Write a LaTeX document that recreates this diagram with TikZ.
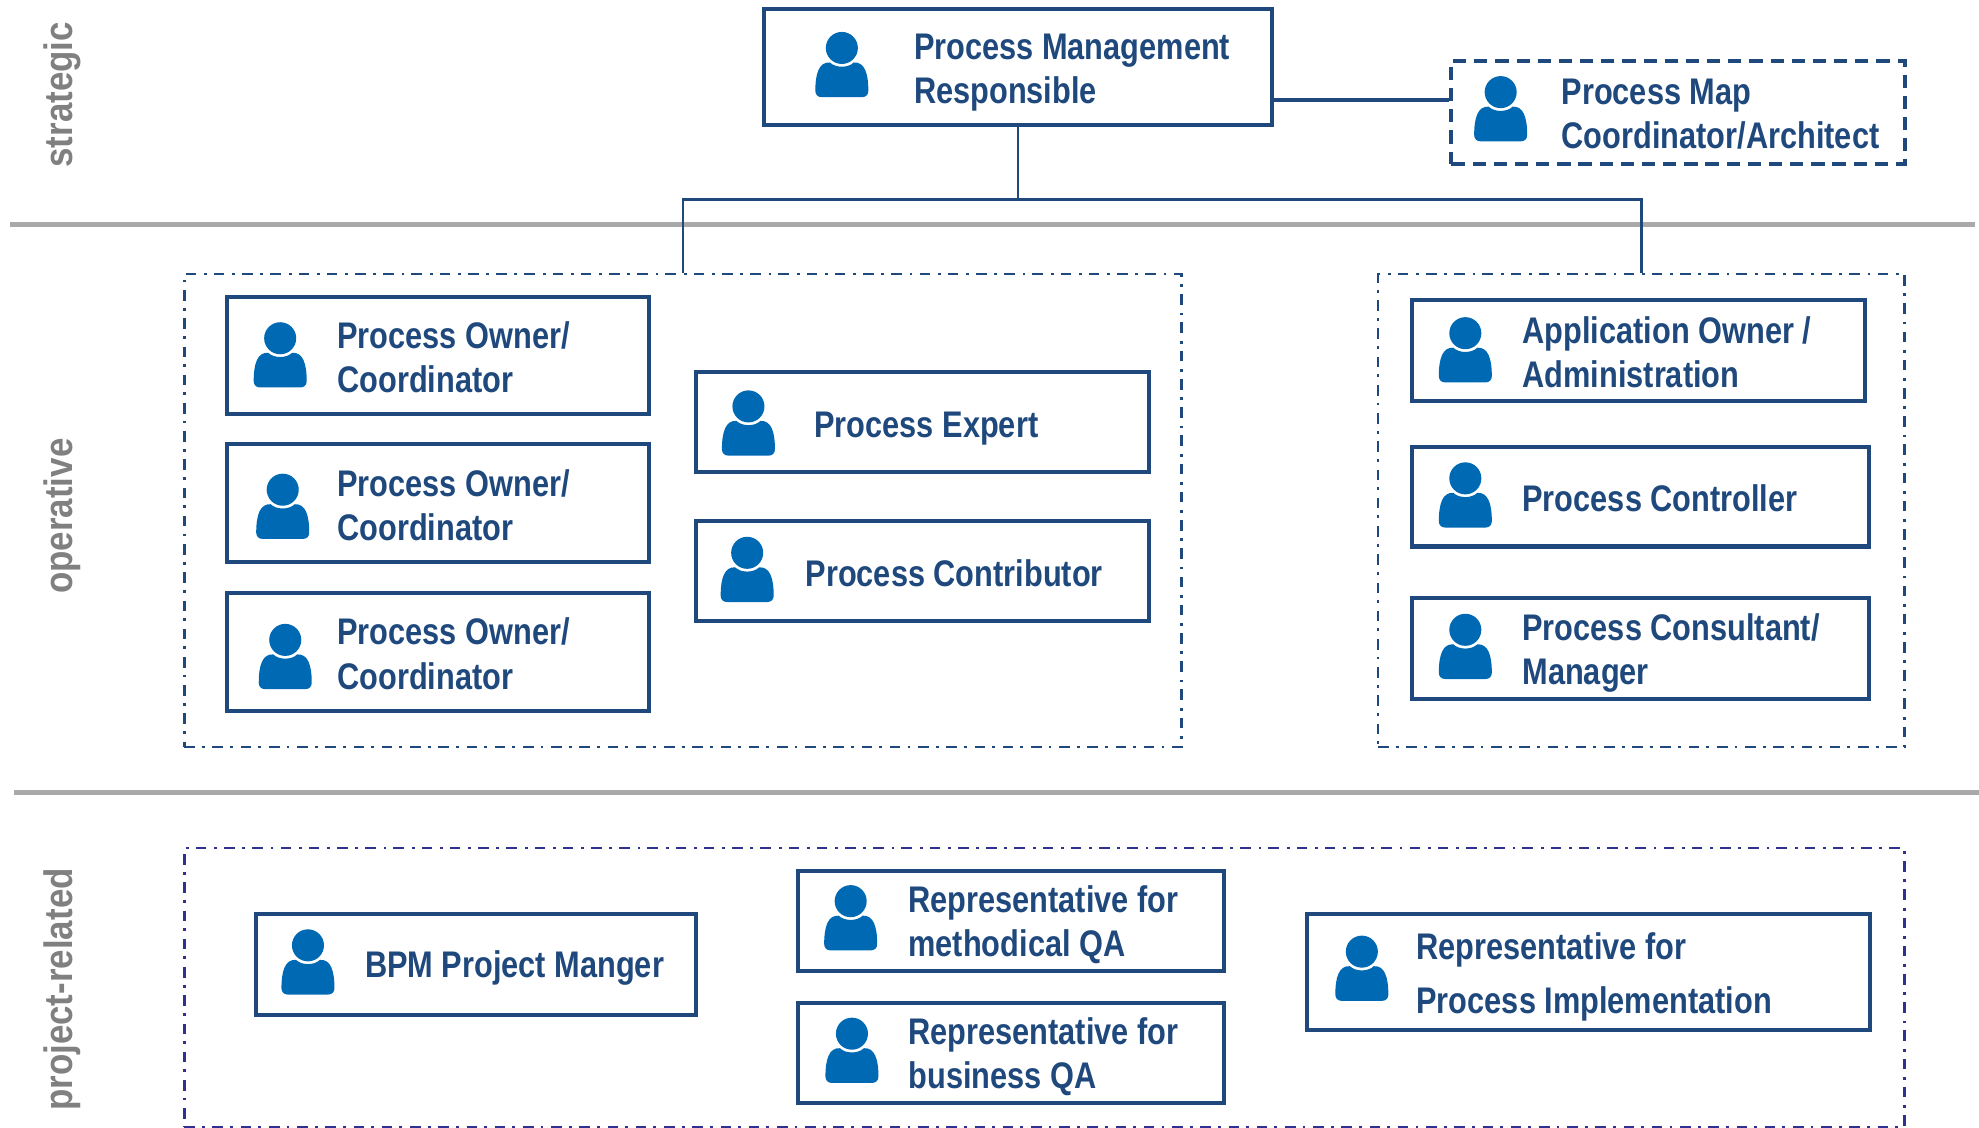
\documentclass[tikz,border=0pt]{standalone}
\usepackage{fontspec}
\setmainfont{Liberation Sans}
\newfontfamily\rolefont[FakeStretch=0.83]{Liberation Sans}
\newfontfamily\levelfont[FakeStretch=0.88]{Liberation Sans}
\definecolor{roleblue}{HTML}{1F497D}
\definecolor{iconblue}{HTML}{0069B4}
\definecolor{groupblue}{HTML}{2E3192}
\definecolor{levelgray}{HTML}{808080}
\definecolor{rulegray}{HTML}{A9A9A9}
\def\ux{0.7155pt}
\tikzset{
    rolebox/.style={draw=roleblue,line width=2.3pt,fill=white,inner sep=0pt},
    rolelabel/.style={anchor=west,align=left,inner sep=0pt,text=roleblue,font=\rolefont\fontsize{21}{25}\selectfont\bfseries},
    groupbox/.style={draw=roleblue,line width=1.4pt,inner sep=0pt,dash pattern=on 6pt off 4pt on 1.6pt off 4.4pt},
    levellabel/.style={rotate=90,inner sep=0pt,text=levelgray,font=\levelfont\fontsize{22.5}{25}\selectfont\bfseries},
    levelrule/.style={draw=rulegray,line width=3.2pt},
    person/.pic={
        \fill[iconblue] (0,0) circle (12.7);
        \fill[iconblue] (-21,34)
            .. controls (-21,20) and (-18,11) .. (-9.5,11.5)
            .. controls (-5,16) and (5,16) .. (9.5,11.5)
            .. controls (18,11) and (21,20) .. (21,34)
            .. controls (21,37) and (19,39) .. (16,39) -- (-16,39)
            .. controls (-19,39) and (-21,37) .. (-21,34) -- cycle;
    }
}
\begin{document}
\begin{tikzpicture}[x=0.7155pt,y=-0.7155pt]
    \useasboundingbox (0,0) rectangle (1568,893.7);

    \draw[levelrule] (8,178) -- (1565,178);
    \draw[levelrule] (11,628) -- (1568,628);

    \node[levellabel] (strategic) at (49,75) {strategic};
    \node[levellabel] (operative) at (49,409) {operative};
    \node[levellabel] (projectrelated) at (49,784) {project-related};

    % groups
    \node[groupbox,minimum width=790*\ux,minimum height=375*\ux] (opleft) at (541,404.5) {};
    \node[groupbox,minimum width=417*\ux,minimum height=375*\ux] (opright) at (1300.5,404.5) {};
    \node[groupbox,draw=groupblue,minimum width=1363*\ux,minimum height=221*\ux] (project) at (827.5,782.5) {};

    % top level
    \node[rolebox,minimum width=403*\ux,minimum height=92*\ux] (pmr) at (806.5,53) {};
    \pic at (667,38) {person};
    \node[rolelabel] (pmrtext) at (724,57.5) {Process Management\\Responsible};
    \node[rolebox,dash pattern=on 7.5pt off 4.5pt,minimum width=359*\ux,minimum height=82*\ux] (map) at (1329.5,89) {};
    \pic at (1189,73) {person};
    \node[rolelabel] (maptext) at (1237,90.5) {Process Map\\Coordinator/Architect};

    \draw[draw=roleblue,line width=2.2pt] (pmr.east |- 0,79) -- (map.west |- 0,79);
    \draw[draw=roleblue,line width=1.4pt] (pmr.south) -- (pmr.south |- 0,158);
    \draw[draw=roleblue,line width=1.4pt] (opleft.north) |- (pmr.south |- 0,158) -| (opright.north);

    % operative, left
    \node[rolebox,minimum width=334*\ux,minimum height=93*\ux] (ownerone) at (347,281.5) {};
    \pic at (222,268) {person};
    \node[rolelabel] (owneronetext) at (267,283) {Process Owner/\\Coordinator};
    \node[rolebox,minimum width=334*\ux,minimum height=93*\ux] (ownertwo) at (347,398.5) {};
    \pic at (224,388) {person};
    \node[rolelabel] (ownertwotext) at (267,400) {Process Owner/\\Coordinator};
    \node[rolebox,minimum width=334*\ux,minimum height=93*\ux] (ownerthree) at (347,516.5) {};
    \pic at (226,507) {person};
    \node[rolelabel] (ownerthreetext) at (267,518) {Process Owner/\\Coordinator};
    \node[rolebox,minimum width=359*\ux,minimum height=79*\ux] (expert) at (731,334.5) {};
    \pic at (593,322) {person};
    \node[rolelabel] (experttext) at (645,339.5) {Process Expert};
    \node[rolebox,minimum width=359*\ux,minimum height=79*\ux] (contributor) at (731,452.5) {};
    \pic at (592,438) {person};
    \node[rolelabel] (contributortext) at (638,454) {Process Contributor};

    % operative, right
    \node[rolebox,minimum width=359*\ux,minimum height=80*\ux] (application) at (1298.5,278) {};
    \pic at (1161,264) {person};
    \node[rolelabel] (applicationtext) at (1206,279) {Application Owner /\\Administration};
    \node[rolebox,minimum width=362*\ux,minimum height=79*\ux] (controller) at (1300,393.5) {};
    \pic at (1161,379) {person};
    \node[rolelabel] (controllertext) at (1206,395) {Process Controller};
    \node[rolebox,minimum width=362*\ux,minimum height=80*\ux] (consultant) at (1300,514) {};
    \pic at (1161,499) {person};
    \node[rolelabel] (consultanttext) at (1206,517.5) {Process Consultant/\\Manager};

    % project-related
    \node[rolebox,minimum width=349*\ux,minimum height=80*\ux] (manager) at (377,764) {};
    \pic at (244,749) {person};
    \node[rolelabel] (managertext) at (289,767) {BPM Project Manger};
    \node[rolebox,minimum width=338*\ux,minimum height=79*\ux] (methodical) at (801,729.5) {};
    \pic at (674,714) {person};
    \node[rolelabel] (methodicaltext) at (719.5,733) {Representative for\\methodical QA};
    \node[rolebox,minimum width=338*\ux,minimum height=79*\ux] (business) at (801,834.5) {};
    \pic at (675,819) {person};
    \node[rolelabel] (businesstext) at (719.5,837.5) {Representative for\\business QA};
    \node[rolebox,minimum width=446*\ux,minimum height=92*\ux] (implementation) at (1258.5,770) {};
    \pic at (1079,754) {person};
    \node[rolelabel,font=\rolefont\fontsize{21}{31}\selectfont\bfseries] (implementationtext) at (1122,774) {Representative for\\Process Implementation};
\end{tikzpicture}
\end{document}
